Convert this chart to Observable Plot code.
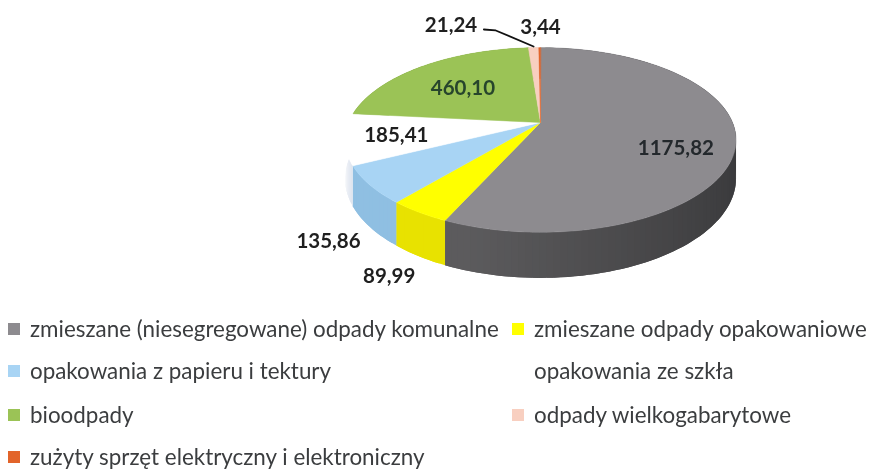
<!DOCTYPE html>
<html lang="pl">
<head>
<meta charset="utf-8">
<script src="https://cdn.jsdelivr.net/npm/d3@7"></script>
<script src="https://cdn.jsdelivr.net/npm/@observablehq/plot@0.6"></script>
<style>
  html, body { margin: 0; padding: 0; background: #fff; width: 870px; height: 471px; overflow: hidden; }
  #chart svg { display: block; filter: blur(0.45px); }
  #legend { position: relative; height: 159px; font: 22.4px Lato, sans-serif; color: #3b3d3f; filter: blur(0.3px); }
  .item { position: absolute; white-space: nowrap; line-height: 22px; }
  .item i { position: absolute; left: -22px; top: 5px; width: 12px; height: 12px; }
</style>
</head>
<body>
<div id="chart"></div>
<div id="legend"></div>
<script>
const categories = [
  "zmieszane (niesegregowane) odpady komunalne",
  "zmieszane odpady opakowaniowe",
  "opakowania z papieru i tektury",
  "opakowania ze szkła",
  "bioodpady",
  "odpady wielkogabarytowe",
  "zużyty sprzęt elektryczny i elektroniczny"
];
const values = [1175.82, 89.99, 135.86, 185.41, 460.10, 21.24, 3.44];
const valueLabels = ["1175,82", "89,99", "135,86", "185,41", "460,10", "21,24", "3,44"];
const topColors = ["#8d8b8f", "#ffff00", "#a8d4f4", "#ffffff", "#9bc356", "#f8cfc0", "#e2642a"];
const wallColors = ["#5c5b5d", "#e8e200", "#8fbfe2", "#ffffff", "#7f9f45", "#d8b0a0", "#c05020"];
const labelColors = ["#23282c", "#1f1f1f", "#1f1f1f", "#1f1f1f", "#27452c", "#1f1f1f", "#1f1f1f"];

// layout, in the pie's own unit coordinates
const labelU = [0.705, -0.788, -1.104, -0.751, -0.404, -0.466, 0];
const labelV = [-0.29, -1.73, -1.337, -0.146, 0.382, 1.09, 1.067];
const leaderU = [-0.295, -0.233, -0.036];
const leaderV = [1.045, 1.034, 0.854];
const legendLeft = [30, 534, 30, 534, 30, 534, 30];
const legendTop = [6, 6, 48, 48, 92, 92, 134];

const perspective = 0.189, depth = 0.416;
const total = d3.sum(values);
const ends = d3.cumsum(values).map(c => c / total * 2 * Math.PI);
const starts = ends.map((e, i) => (i ? ends[i - 1] : 0));
const rim = t => {
  const u = Math.sin(t), v = Math.cos(t), w = 1 + perspective * v;
  return {x: u / w, y: v / w, w};
};
const steps = (a, b, n) => d3.range(n + 1).map(i => a + (b - a) * i / n);

// side wall: narrow overlapping facets, so the gray one can darken toward the right
const wallShade = (i, t, f) =>
  i === 0 ? d3.interpolateRgb("#3a3a3c", wallColors[0])(Math.max(0, Math.min(1, (1 - Math.sin(t)) / 1.3)))
  : i === 3 ? d3.interpolateRgb("#dfe5ef", "#ffffff")(Math.min(1, f * 2.2))
  : wallColors[i];
const facets = [];
categories.forEach((c, i) => {
  const n = Math.max(1, Math.ceil((ends[i] - starts[i]) / 0.03));
  const ts = steps(starts[i], ends[i], n);
  for (let k = 0; k < n; k++) {
    const color = wallShade(i, ts[k], k / n);
    const id = `${i}-${k}`;
    const arc = ts.slice(k, k + 3).map(rim);
    const upper = arc.map(p => ({id, color, x: p.x, y: p.y}));
    const lower = arc.map(p => ({id, color, x: p.x, y: p.y - depth / p.w})).reverse();
    facets.push(...upper, ...lower);
  }
});

const slices = categories.flatMap((c, i) => {
  const n = Math.max(2, Math.ceil((ends[i] - starts[i]) / 0.02));
  return [{name: c, color: topColors[i], x: 0, y: 0}].concat(
    steps(starts[i], ends[i], n).map(t => {
      const p = rim(t);
      return {name: c, color: topColors[i], x: p.x, y: p.y};
    })
  );
});

const plot = Plot.plot({
  width: 870,
  height: 312,
  margin: 0,
  x: {domain: [-1, 1], range: [348, 732], axis: null},
  y: {domain: [-1, 1], range: [211, 33], axis: null},
  color: {type: "identity"},
  style: {background: "transparent"},
  marks: [
    Plot.line(facets, {x: "x", y: "y", z: "id", fill: "color", stroke: "none", curve: "linear-closed"}),
    Plot.line(slices, {x: "x", y: "y", z: "name", fill: "color", stroke: "color", strokeWidth: 0.5, curve: "linear-closed"}),
    Plot.line(leaderU.map((u, i) => ({u, v: leaderV[i]})), {x: "u", y: "v", stroke: "#111", strokeWidth: 1.8}),
    Plot.text(valueLabels, {
      x: (d, i) => labelU[i],
      y: (d, i) => labelV[i],
      text: d => d,
      fill: (d, i) => labelColors[i],
      fontFamily: "Lato",
      fontWeight: 700,
      fontSize: 20.5
    })
  ]
});
document.getElementById("chart").append(plot);

const legend = d3.select("#legend");
categories.forEach((c, i) => {
  const item = legend.append("div").attr("class", "item")
    .style("left", legendLeft[i] + "px").style("top", legendTop[i] + "px");
  item.append("i").style("background", topColors[i]);
  item.append("span").text(c);
});
</script>
</body>
</html>
